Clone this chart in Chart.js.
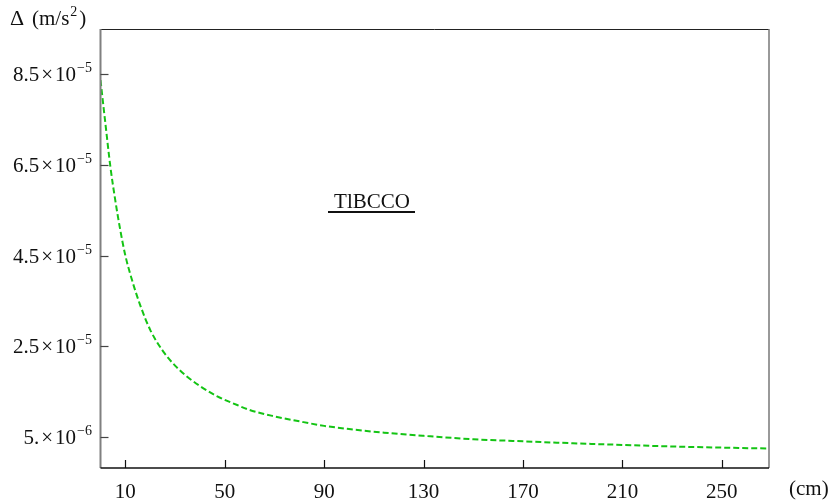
<!DOCTYPE html>
<html>
<head>
<meta charset="utf-8">
<script src="https://cdn.jsdelivr.net/npm/chart.js@4"></script>
<style>
  html, body { margin: 0; padding: 0; background: #fff; }
  #wrap { width: 828px; height: 501px; }
</style>
</head>
<body>
<div id="wrap"><canvas id="chart" width="828" height="501"></canvas></div>
<script>
// distance (cm) and Delta (m/s^2)
const distance = [0, 2, 4, 6, 8, 10, 13, 16, 20, 25, 30, 35, 40, 47, 55, 60, 70, 80, 90, 100, 114, 130, 150, 170, 193, 210, 233, 250, 269];
const delta = [8.37e-5, 7.4e-5, 6.45e-5, 5.7e-5, 5.05e-5, 4.5e-5, 3.9e-5, 3.4e-5, 2.86e-5, 2.4e-5, 2.07e-5, 1.82e-5, 1.62e-5, 1.39e-5, 1.2e-5, 1.09e-5, 0.95e-5, 0.84e-5, 0.74e-5, 0.67e-5, 0.59e-5, 0.52e-5, 0.445e-5, 0.40e-5, 0.35e-5, 0.32e-5, 0.28e-5, 0.26e-5, 0.24e-5];

const xTicks = [10, 50, 90, 130, 170, 210, 250];
const yTicks = [5e-6, 2.5e-5, 4.5e-5, 6.5e-5, 8.5e-5];
const yMantissa = ['5.', '2.5', '4.5', '6.5', '8.5'];
const yExponent = ['\u22126', '\u22125', '\u22125', '\u22125', '\u22125'];

const serif = '"Liberation Serif", "DejaVu Serif", serif';

// frame, inward ticks, y labels with raised exponents and the extra labels
const decorations = {
  id: 'decorations',
  afterDraw(chart) {
    const { ctx, chartArea: a, scales: { x, y } } = chart;
    ctx.save();
    ctx.strokeStyle = '#222';
    ctx.lineWidth = 1;
    ctx.beginPath();
    ctx.moveTo(a.left, a.top + 0.5); ctx.lineTo(a.right, a.top + 0.5);
    ctx.stroke();
    ctx.strokeStyle = '#777';
    ctx.lineWidth = 1.5;
    ctx.beginPath();
    ctx.moveTo(a.right, a.top); ctx.lineTo(a.right, a.bottom);
    ctx.stroke();
    ctx.strokeStyle = '#808080';
    ctx.lineWidth = 2;
    ctx.beginPath();
    ctx.moveTo(a.left, a.top); ctx.lineTo(a.left, a.bottom);
    ctx.stroke();
    ctx.strokeStyle = '#111';
    ctx.lineWidth = 1.5;
    ctx.beginPath();
    ctx.moveTo(a.left, a.bottom); ctx.lineTo(a.right, a.bottom);
    ctx.stroke();

    ctx.lineWidth = 1.2;
    ctx.strokeStyle = '#444';
    yTicks.forEach(v => {
      const py = Math.round(y.getPixelForValue(v)) + 0.5;
      ctx.beginPath(); ctx.moveTo(a.left, py); ctx.lineTo(a.left + 8, py); ctx.stroke();
    });
    ctx.strokeStyle = '#111';
    xTicks.forEach(v => {
      const px = Math.round(x.getPixelForValue(v)) + 0.5;
      ctx.beginPath(); ctx.moveTo(px, a.bottom); ctx.lineTo(px, a.bottom - 8); ctx.stroke();
    });

    ctx.fillStyle = '#111';
    ctx.textBaseline = 'alphabetic';
    ctx.textAlign = 'left';

    // y labels: mantissa x 10^exp, right edge at 92
    yTicks.forEach((v, i) => {
      const base = y.getPixelForValue(v) + 7;
      ctx.font = '14px ' + serif;
      const expW = ctx.measureText(yExponent[i]).width;
      let px = 92 - expW;
      ctx.fillText(yExponent[i], px, base - 9);
      ctx.font = '21px ' + serif;
      const ten = ctx.measureText('10').width;
      px -= ten + 1;
      ctx.fillText('10', px, base);
      const times = ctx.measureText('\u00D7').width;
      px -= times + 2;
      ctx.fillText('\u00D7', px, base);
      const man = ctx.measureText(yMantissa[i]).width;
      px -= man + 2;
      ctx.fillText(yMantissa[i], px, base);
    });

    ctx.font = '22px ' + serif;
    ctx.fillText('\u0394', 10, 25);
    ctx.font = '21px ' + serif;
    ctx.fillText('(m/s', 32, 25);
    const w = ctx.measureText('(m/s').width;
    ctx.font = '14px ' + serif;
    ctx.fillText('2', 32 + w + 1, 16);
    ctx.font = '21px ' + serif;
    ctx.fillText(')', 32 + w + 10, 25);

    ctx.fillText('(cm)', 789, 495);

    ctx.textAlign = 'center';
    ctx.fillText('TlBCCO', 372, 208);
    ctx.fillRect(328, 211, 87, 2);
    ctx.restore();
  }
};

new Chart(document.getElementById('chart'), {
  type: 'line',
  data: {
    labels: distance,
    datasets: [{
      data: distance.map((d, i) => ({ x: d, y: delta[i] })),
      borderColor: '#14c414',
      borderWidth: 2,
      borderDash: [6, 3],
      pointRadius: 0,
      cubicInterpolationMode: 'monotone',
      fill: false
    }]
  },
  options: {
    responsive: false,
    animation: false,
    layout: { padding: { top: 29, right: 59, left: 0, bottom: 0 } },
    plugins: { legend: { display: false }, tooltip: { enabled: false } },
    scales: {
      x: {
        type: 'linear',
        min: 0,
        max: 269,
        afterBuildTicks: s => { s.ticks = xTicks.map(v => ({ value: v })); },
        afterFit: s => { s.height = 33; },
        grid: { display: false },
        border: { display: false },
        ticks: {
          color: '#111',
          font: { family: serif, size: 21 },
          padding: 4,
          maxRotation: 0,
          autoSkip: false,
          callback: v => String(v)
        }
      },
      y: {
        min: -1.9e-6,
        max: 9.5e-5,
        afterBuildTicks: s => { s.ticks = yTicks.map(v => ({ value: v })); },
        afterFit: s => { s.width = 100.5; },
        grid: { display: false },
        border: { display: false },
        ticks: { display: false }
      }
    }
  },
  plugins: [decorations]
});
</script>
</body>
</html>
